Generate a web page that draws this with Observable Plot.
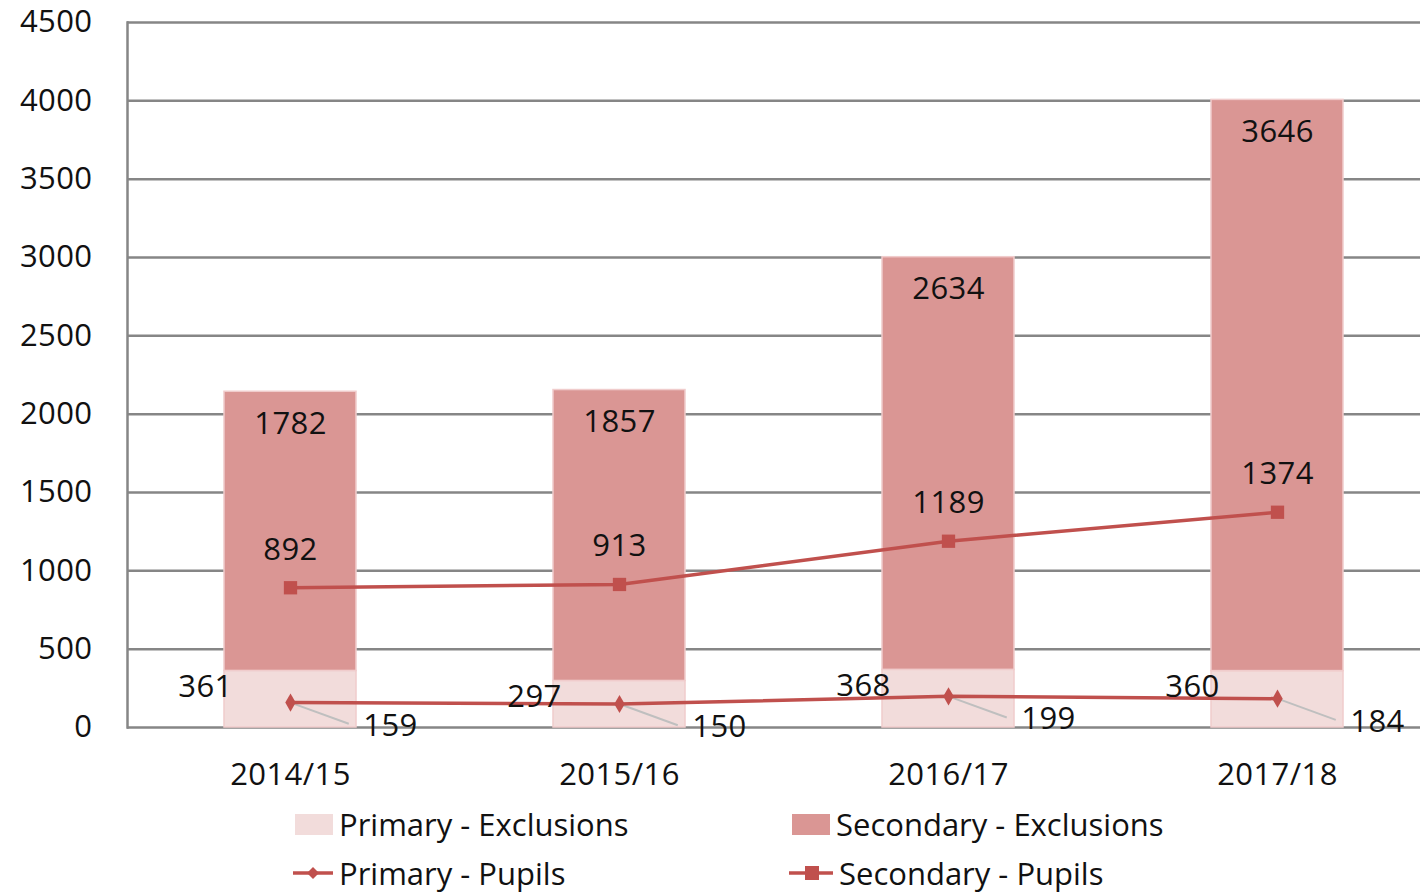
<!DOCTYPE html>
<html>
<head>
<meta charset="utf-8">
<script src="https://cdn.jsdelivr.net/npm/d3@7"></script>
<script src="https://cdn.jsdelivr.net/npm/@observablehq/plot@0.6"></script>
<style>
  body { margin: 0; background: white; font-family: "Open Sans", sans-serif; }
  #wrap { width: 1420px; height: 895px; position: relative; overflow: hidden; }
  #legend { position: relative; height: 95px; width: 1420px; font-size: 31px; color: #111; }
  .item { position: absolute; display: flex; align-items: center; height: 40px; }
  .item span { margin-left: 6px; }
</style>
</head>
<body>
<div id="wrap">
  <div id="chart"></div>
  <div id="legend"></div>
</div>
<script>
const years = ["2014/15", "2015/16", "2016/17", "2017/18"];
const primaryExclusions = [361, 297, 368, 360];
const secondaryExclusions = [1782, 1857, 2634, 3646];
const primaryPupils = [159, 150, 199, 184];
const secondaryPupils = [892, 913, 1189, 1374];
const yTicks = [0, 500, 1000, 1500, 2000, 2500, 3000, 3500, 4000, 4500];
const seriesNames = ["Primary - Exclusions", "Secondary - Exclusions", "Primary - Pupils", "Secondary - Pupils"];
const colors = { primaryBar: "#f2dcdb", secondaryBar: "#da9694", line: "#c0504d" };

const barRows = [];
years.forEach((y, i) => {
  barRows.push({ year: y, series: seriesNames[0], value: primaryExclusions[i] });
  barRows.push({ year: y, series: seriesNames[1], value: secondaryExclusions[i] });
});
const rows = years.map((y, i) => ({
  year: y,
  pe: primaryExclusions[i],
  se: secondaryExclusions[i],
  total: primaryExclusions[i] + secondaryExclusions[i],
  pp: primaryPupils[i],
  sp: secondaryPupils[i]
}));

const chart = Plot.plot({
  width: 1420,
  height: 800,
  marginLeft: 127,
  marginRight: 0,
  marginTop: 22,
  marginBottom: 73,
  style: { fontFamily: "Open Sans", fontSize: "31px", color: "#111", background: "white", letterSpacing: "0.4px" },
  x: { domain: years, range: [125, 1441], paddingInner: 0.6, paddingOuter: 0.3, label: null },
  y: { domain: [0, 4500], label: null },
  color: { domain: seriesNames.slice(0, 2), range: [colors.primaryBar, colors.secondaryBar] },
  marks: [
    Plot.ruleY(yTicks, { stroke: "#868686", strokeWidth: 2.5 }),
    Plot.barY(barRows, { x: "year", y: "value", fill: "series", order: seriesNames.slice(0, 2), stroke: "#f0cccc", strokeWidth: 1.5 }),
    Plot.frame({ anchor: "left", stroke: "#868686", strokeWidth: 2.5 }),
    Plot.axisY({ ticks: yTicks, tickFormat: d => String(d), tickSize: 0, tickPadding: 35, label: null, fill: "#111" }),
    Plot.axisX({ tickSize: 0, tickPadding: 35, label: null, fill: "#111" }),
    Plot.vector(rows, { x: "year", y: "pp", length: 62, rotate: 110, anchor: "start", r: 0, stroke: "#bfbfbf", strokeWidth: 2, strokeLinecap: "butt" }),
    Plot.line(rows, { x: "year", y: "pp", stroke: colors.line, strokeWidth: 3.5, curve: "linear" }),
    Plot.dot(rows, { x: "year", y: "pp", symbol: "diamond", r: 5.5, fill: colors.line }),
    Plot.line(rows, { x: "year", y: "sp", stroke: colors.line, strokeWidth: 3.5 }),
    Plot.dot(rows, { x: "year", y: "sp", symbol: "square", r: 7.5, fill: colors.line }),
    Plot.text(rows, { x: "year", y: "total", text: d => String(d.se), dy: 32, fill: "#111" }),
    Plot.text(rows, { x: "year", y: "sp", text: d => String(d.sp), dy: -38, fill: "#111" }),
    Plot.text(rows, { x: "year", y: "pe", text: d => String(d.pe), dx: -85, dy: 16, fill: "#111" }),
    Plot.text(rows, { x: "year", y: "pp", text: d => String(d.pp), dx: 100, dy: 23, fill: "#111" })
  ]
});
document.getElementById("chart").appendChild(chart);

// Legend
const legend = document.getElementById("legend");
function addItem(left, top, swatchHtml, label) {
  const div = document.createElement("div");
  div.className = "item";
  div.style.left = left + "px";
  div.style.top = top + "px";
  div.innerHTML = swatchHtml + `<span>${label}</span>`;
  legend.appendChild(div);
}
const rect = c => `<svg width="38" height="21"><rect width="38" height="21" fill="${c}"/></svg>`;
const lineDiamond = `<svg width="40" height="20"><line x1="0" x2="40" y1="10" y2="10" stroke="${colors.line}" stroke-width="3.5"/><path d="M20,4L26,10L20,16L14,10Z" fill="${colors.line}"/></svg>`;
const lineSquare = `<svg width="44" height="20"><line x1="0" x2="44" y1="10" y2="10" stroke="${colors.line}" stroke-width="3.5"/><rect x="16" y="3" width="14" height="14" fill="${colors.line}"/></svg>`;
addItem(295, 4, rect(colors.primaryBar), seriesNames[0]);
addItem(792, 4, rect(colors.secondaryBar), seriesNames[1]);
addItem(293, 53, lineDiamond, seriesNames[2]);
addItem(789, 53, lineSquare, seriesNames[3]);
</script>
</body>
</html>
